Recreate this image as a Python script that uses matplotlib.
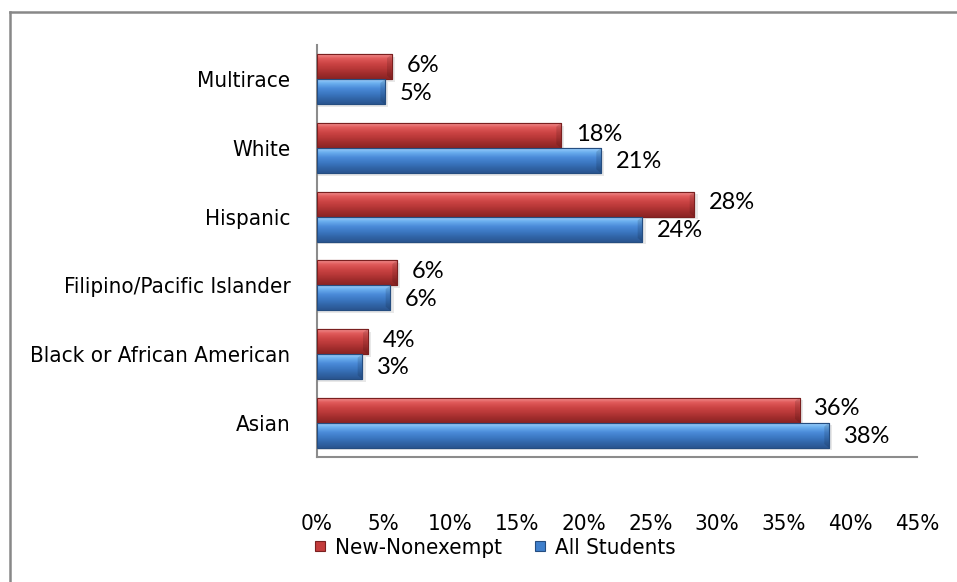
import matplotlib
matplotlib.use("Agg")
import matplotlib.pyplot as plt
import numpy as np
from matplotlib.lines import Line2D

categories = ["Asian", "Black or African American", "Filipino/Pacific Islander",
              "Hispanic", "White", "Multirace"]
new_nonexempt = [36.2, 3.8, 6.0, 28.3, 18.3, 5.6]
all_students = [38.4, 3.4, 5.5, 24.4, 21.3, 5.1]
new_labels = ["36%", "4%", "6%", "28%", "18%", "6%"]
all_labels = ["38%", "3%", "6%", "24%", "21%", "5%"]
xticks = [0, 5, 10, 15, 20, 25, 30, 35, 40, 45]
xtick_labels = [f"{t}%" for t in xticks]
series_names = ["New-Nonexempt", "All Students"]

narrow = dict(family=["DejaVu Sans"], stretch="condensed", size=16)
calib = ["Lato", "DejaVu Sans"]

W, H = 957, 582
fig = plt.figure(figsize=(W / 100, H / 100), dpi=100)
ax = fig.add_axes([317 / W, 1 - 457 / H, 600 / W, 412 / H])

y = np.arange(len(categories))
h = 0.365

red_grad = ["#f49a9a", "#e05a5a", "#cc4444", "#b83838", "#a02c2c", "#8a2424"]
blue_grad = ["#a6d6ff", "#6aaeee", "#4a8ad8", "#3c78c2", "#3165a8", "#2a5590"]


def grad_bars(vals, ys, colors, edge):
    ax.barh(ys - 0.04, np.array(vals) + 0.25, height=h, left=0,
            color="#d9d9d9", alpha=0.6, zorder=1, linewidth=0)
    bars = ax.barh(ys, vals, height=h, color=colors[2], edgecolor=edge,
                   linewidth=0.8, zorder=2)
    cmap = matplotlib.colors.LinearSegmentedColormap.from_list("g", colors)
    grad = np.linspace(0, 1, 64).reshape(-1, 1)
    for p in bars.patches:
        x0, y0 = p.get_x(), p.get_y()
        w, hh = p.get_width(), p.get_height()
        im = ax.imshow(grad, cmap=cmap, aspect="auto",
                       extent=[x0, x0 + w, y0, y0 + hh], origin="upper",
                       zorder=3, interpolation="bilinear")
        im.set_clip_path(p)
        ax.fill([x0 + w - 0.35, x0 + w, x0 + w, x0 + w - 0.35],
                [y0 + hh * 0.15, y0, y0 + hh, y0 + hh * 0.85],
                color="black", alpha=0.12, zorder=4, linewidth=0)
    ax.barh(ys, vals, height=h, fill=False, edgecolor=edge, linewidth=0.8, zorder=5)
    return bars


grad_bars(new_nonexempt, y + h / 2, red_grad, "#7a2020")
grad_bars(all_students, y - h / 2, blue_grad, "#254d80")

for yi, v, lab in zip(y + h / 2, new_nonexempt, new_labels):
    ax.text(v + 1.1, yi + 0.02, lab, va="center", ha="left", fontsize=17,
            family=calib, color="black")
for yi, v, lab in zip(y - h / 2, all_students, all_labels):
    ax.text(v + 1.1, yi - 0.02, lab, va="center", ha="left", fontsize=17,
            family=calib, color="black")

ax.set_xlim(0, 45)
ax.set_ylim(-0.5, len(categories) - 0.5)
ax.set_xticks(xticks)
ax.set_xticklabels(xtick_labels, **narrow)
ax.set_yticks(y)
ax.set_yticklabels(categories, **narrow)
ax.tick_params(axis="both", length=0)
ax.tick_params(axis="x", pad=41)
ax.tick_params(axis="y", pad=19)
for s in ["top", "right"]:
    ax.spines[s].set_visible(False)
for s in ["left", "bottom"]:
    ax.spines[s].set_color("#8c8c8c")
    ax.spines[s].set_linewidth(1.5)

handles = [Line2D([], [], linestyle="none", marker="s", markersize=6.5,
                  markerfacecolor="#c43c3c", markeredgecolor="#7a2020", markeredgewidth=0.8),
           Line2D([], [], linestyle="none", marker="s", markersize=6.5,
                  markerfacecolor="#3f7fcc", markeredgecolor="#254d80", markeredgewidth=0.8)]
fig.legend(handles, series_names, loc="center", bbox_to_anchor=(495 / W, 1 - 548 / H),
           ncol=2, frameon=False, prop=narrow,
           handlelength=0.5, handletextpad=0.4, columnspacing=1.5)

fig.add_artist(Line2D([10 / W, 1.0], [1 - 12 / H, 1 - 12 / H], color="#888888",
                      linewidth=1.8, transform=fig.transFigure))
fig.add_artist(Line2D([10 / W, 10 / W], [1 - 12 / H, 0], color="#888888",
                      linewidth=1.8, transform=fig.transFigure))

fig.savefig("out.png", dpi=100)
